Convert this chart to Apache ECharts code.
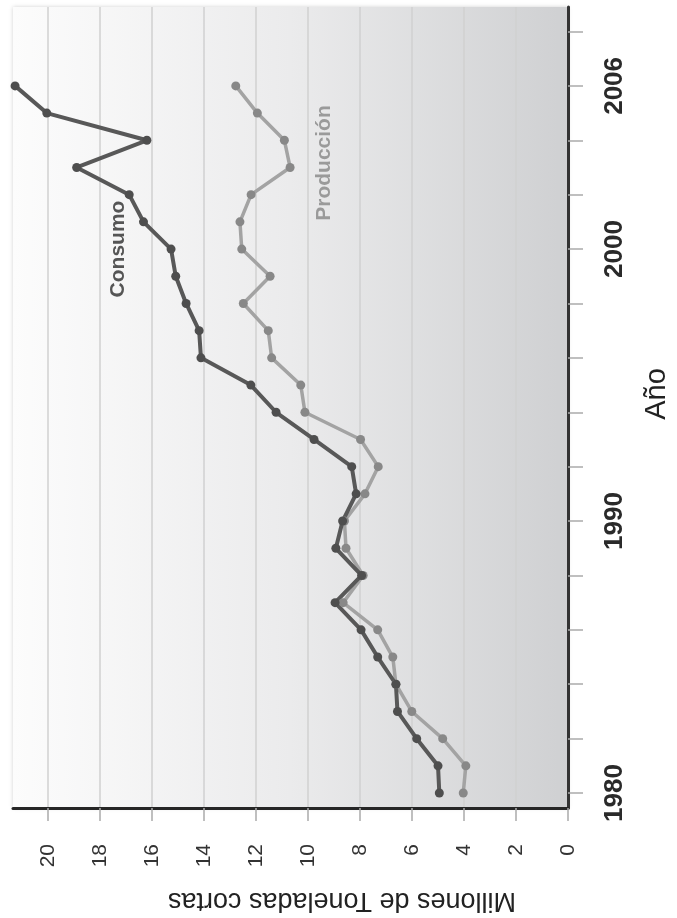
<!DOCTYPE html>
<html>
<head>
    <meta charset="utf-8">
    <title>Consumo y Producción</title>
    <script src="https://cdn.jsdelivr.net/npm/echarts@6/dist/echarts.min.js"></script>
    <style>
        body, html {
            margin: 0;
            height: 100%;
            background: #fff;
        }

        #main {
            width: 677px;
            height: 918px;
        }
    </style>
</head>
<body>
<div id="main"></div>
<script type="text/javascript">
    var years = [1980, 1981, 1982, 1983, 1984, 1985, 1986, 1987, 1988, 1989, 1990, 1991, 1992, 1993,
        1994, 1995, 1996, 1997, 1998, 1999, 2000, 2001, 2002, 2003, 2004, 2005, 2006];
    var consumo = [4.95, 5.0, 5.82, 6.56, 6.62, 7.32, 7.96, 8.96, 7.94, 8.93, 8.67, 8.15, 8.32, 9.77,
        11.23, 12.2, 14.12, 14.19, 14.69, 15.09, 15.27, 16.33, 16.88, 18.9, 16.2, 20.05, 21.27];
    var produccion = [4.03, 3.93, 4.82, 6.01, 6.62, 6.74, 7.32, 8.65, 7.88, 8.54, 8.6, 7.81, 7.3, 7.98,
        10.12, 10.28, 11.4, 11.53, 12.49, 11.46, 12.55, 12.62, 12.19, 10.69, 10.91, 11.95, 12.78];
    var yearTicks = [1980, 1982, 1984, 1986, 1988, 1990, 1992, 1994, 1996, 1998, 2000, 2002, 2004, 2006, 2008];
    var yearLabels = [1980, 1990, 2000, 2006];
    var valueTicks = [0, 2, 4, 6, 8, 10, 12, 14, 16, 18, 20];

    var font = '"Liberation Sans", Arial, sans-serif';

    function pairs(values) {
        var out = [];
        for (var i = 0; i < years.length; i++) {
            out.push([values[i], years[i]]);
        }
        return out;
    }

    var myChart = echarts.init(document.getElementById('main'));

    var option = {
        animation: false,
        textStyle: {fontFamily: font},
        grid: {
            show: true,
            left: 13,
            right: 109,
            top: 7,
            bottom: 110,
            outerBoundsMode: 'none',
            borderWidth: 0,
            backgroundColor: new echarts.graphic.LinearGradient(0, 0, 1, 0, [
                {offset: 0, color: '#fcfcfc'},
                {offset: 0.5, color: '#ebebec'},
                {offset: 1, color: '#cfd0d2'}
            ]),
            shadowColor: 'rgba(0,0,0,0.18)',
            shadowBlur: 4
        },
        xAxis: {
            type: 'value',
            position: 'bottom',
            inverse: true,
            min: 0,
            max: 21.35,
            interval: 2,
            axisLine: {show: true, onZero: false, lineStyle: {color: '#262626', width: 3}},
            axisTick: {
                show: true,
                length: 13,
                customValues: valueTicks,
                lineStyle: {color: '#aaaaaa', width: 1.5}
            },
            axisLabel: {
                customValues: valueTicks,
                rotate: 90,
                margin: 36,
                fontSize: 21,
                color: '#333',
                fontFamily: font
            },
            splitLine: {show: true, lineStyle: {color: '#d0d0d0', width: 1.5}}
        },
        yAxis: {
            type: 'value',
            position: 'right',
            min: 1979.45,
            max: 2008.9,
            axisLine: {show: true, onZero: false, lineStyle: {color: '#333', width: 3}},
            axisTick: {
                show: true,
                length: 15,
                customValues: yearTicks,
                lineStyle: {color: '#aaaaaa', width: 1.5}
            },
            axisLabel: {
                customValues: yearLabels,
                rotate: 90,
                margin: 34,
                fontSize: 26,
                fontWeight: 'bold',
                color: '#2a2a2a',
                fontFamily: font,
                formatter: function (v) {
                    return String(v);
                }
            },
            splitLine: {show: false}
        },
        series: [
            {
                name: 'Producción',
                type: 'line',
                clip: false,
                symbol: 'circle',
                symbolSize: 9,
                lineStyle: {color: '#a3a3a3', width: 3.5},
                itemStyle: {color: '#888888'},
                data: pairs(produccion)
            },
            {
                name: 'Consumo',
                type: 'line',
                clip: false,
                symbol: 'circle',
                symbolSize: 9,
                lineStyle: {color: '#585858', width: 4},
                itemStyle: {color: '#4e4e4e'},
                data: pairs(consumo)
            }
        ],
        graphic: [
            {
                type: 'text', x: 118, y: 249, rotation: Math.PI / 2,
                style: {
                    text: 'Consumo', align: 'center', verticalAlign: 'middle',
                    font: 'bold 21px ' + font, fill: '#555'
                }
            },
            {
                type: 'text', x: 324, y: 163, rotation: Math.PI / 2,
                style: {
                    text: 'Producción', align: 'center', verticalAlign: 'middle',
                    font: 'bold 21px ' + font, fill: '#9a9a9a'
                }
            },
            {
                type: 'text', x: 342, y: 900, rotation: Math.PI,
                style: {
                    text: 'Millones de Toneladas cortas', align: 'center', verticalAlign: 'middle',
                    font: '27px ' + font, fill: '#222'
                }
            },
            {
                type: 'text', x: 657, y: 394, rotation: Math.PI / 2,
                style: {
                    text: 'Año', align: 'center', verticalAlign: 'middle',
                    font: '29px ' + font, fill: '#222'
                }
            }
        ]
    };

    myChart.setOption(option);
</script>
</body>
</html>
